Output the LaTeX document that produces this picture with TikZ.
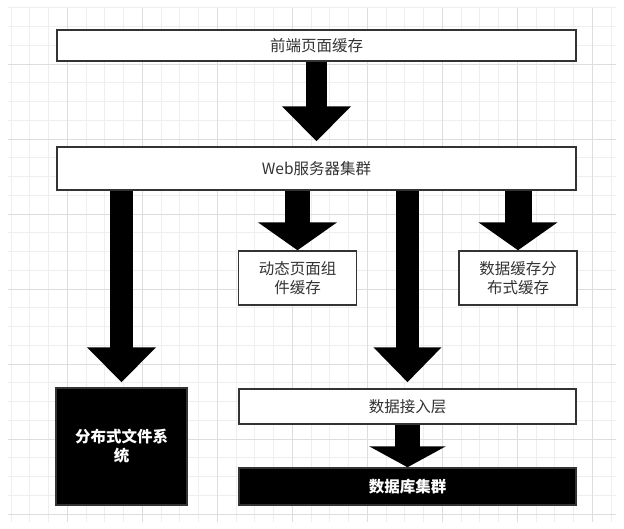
\documentclass[tikz,border=0pt]{standalone}
\usepackage{fontspec}
\usepackage{xcolor}
\usepackage{tikz}
\usetikzlibrary{arrows.meta, positioning}
\setmainfont{Noto Sans CJK SC}
\definecolor{gridminor}{HTML}{EEEEEE}
\definecolor{gridmajor}{HTML}{DDDDDD}
\definecolor{boxborder}{HTML}{333333}
\definecolor{boxtext}{HTML}{333333}

\begin{document}
\begin{tikzpicture}[x=1pt, y=-1pt,
  plainbox/.style={draw=boxborder, line width=1.5pt, fill=white, text=boxtext,
    font=\fontsize{15.5}{19}\selectfont, align=center, inner sep=0pt},
  darkbox/.style={draw=boxborder, line width=1.5pt, fill=black, text=white,
    font=\fontsize{15.5}{19}\selectfont\bfseries, align=center, inner sep=0pt},
  fatarrow/.style n args={3}{draw=black, line width=#1, -{Triangle[length=#2, width=#3]}}]
\useasboundingbox (0,0) rectangle (624,528);
\fill[white] (0,0) rectangle (624,528);
\foreach \gx in {0,...,32}
  \draw[gridminor, line width=0.6pt] ({10.8+18.75*\gx},8) -- ++(0,514);
\foreach \gy in {0,...,27}
  \draw[gridminor, line width=0.6pt] (8,{7.75+18.75*\gy}) -- ++(608,0);
\foreach \gx in {67.05,142.05,...,612}
  \draw[gridmajor, line width=0.8pt] (\gx,8) -- ++(0,514);
\foreach \gy in {64,139,...,520}
  \draw[gridmajor, line width=0.8pt] (8,\gy) -- ++(608,0);

\node[plainbox, minimum width=519pt, minimum height=31pt] (front) at (316.5,45.5) {前端页面缓存};
\node[plainbox, minimum width=519pt, minimum height=43pt] (web) at (316.5,168.5) {Web服务器集群};
\node[plainbox, minimum width=118pt, minimum height=54pt] (dyncache) at (297.5,278) {动态页面组\\件缓存};
\node[plainbox, minimum width=118pt, minimum height=54pt] (datacache) at (518,278) {数据缓存分\\布式缓存};
\node[darkbox, minimum width=131pt, minimum height=117pt] (dfs) at (121.5,446.5) {分布式文件系\\统};
\node[plainbox, minimum width=337pt, minimum height=35pt] (access) at (407.5,406.5) {数据接入层};
\node[darkbox, minimum width=337pt, minimum height=37pt] (dbcluster) at (407.5,486.5) {数据库集群};

\draw[fatarrow={21pt}{35pt}{67pt}, shorten >=5pt] (front) -- (web);
\draw[fatarrow={23pt}{35pt}{67pt}, shorten >=5pt] (web.south -| dfs) -- (dfs);
\draw[fatarrow={25pt}{28pt}{78pt}] (web.south -| dyncache) -- (dyncache);
\draw[fatarrow={27pt}{28pt}{78pt}] (web.south -| datacache) -- (datacache);
\draw[fatarrow={23pt}{35pt}{66pt}, shorten >=6pt] (web.south -| access) -- (access);
\draw[fatarrow={25pt}{21pt}{76pt}] (access) -- (dbcluster);
\end{tikzpicture}
\end{document}
